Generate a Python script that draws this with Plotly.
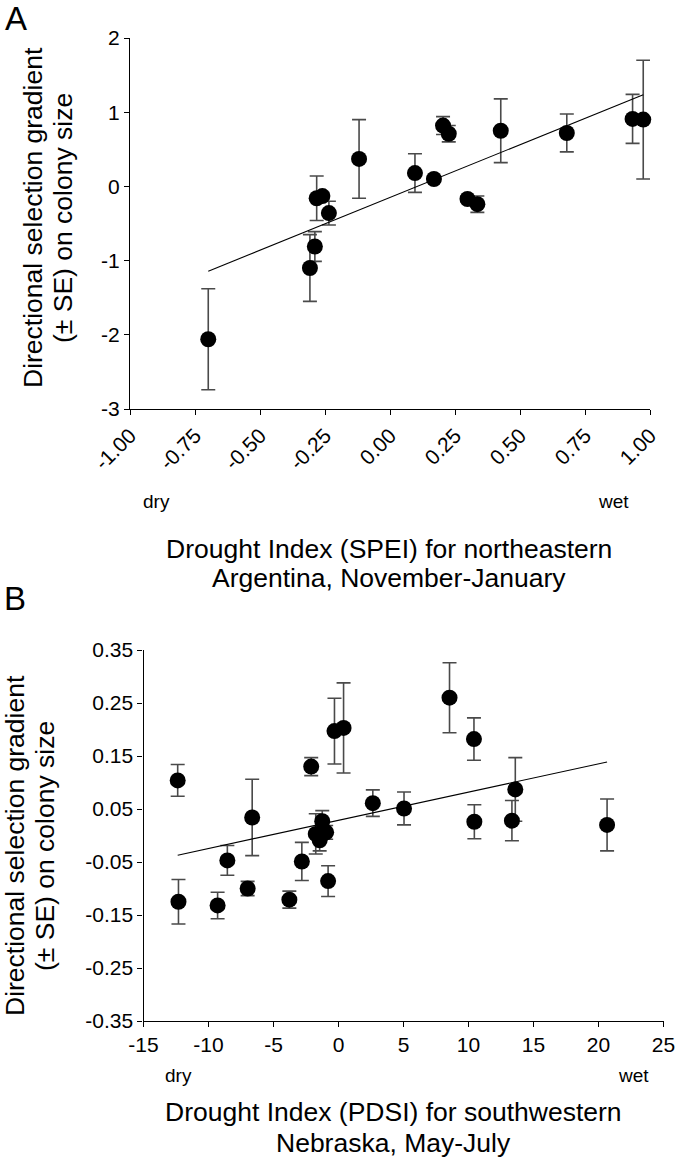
import plotly.graph_objects as go

# ---------------- Panel A data (SPEI, Argentina) ----------------
a_spei = [-0.699, -0.308, -0.289, -0.282, -0.260, -0.235, -0.119, 0.096, 0.169,
          0.204, 0.226, 0.298, 0.336, 0.426, 0.680, 0.933, 0.974]
a_grad = [-2.06, -1.10, -0.81, -0.16, -0.13, -0.36, 0.37, 0.18, 0.10,
          0.82, 0.71, -0.17, -0.24, 0.75, 0.72, 0.91, 0.90]
a_se = [0.68, 0.45, 0.20, 0.30, 0.05, 0.16, 0.53, 0.26, 0.04,
        0.12, 0.11, 0.04, 0.11, 0.43, 0.255, 0.33, 0.80]
a_fit_slope = 1.422
a_fit_intercept = -0.149

a_xticks = [-1.0, -0.75, -0.5, -0.25, 0.0, 0.25, 0.5, 0.75, 1.0]
a_xticktext = ["-1.00", "-0.75", "-0.50", "-0.25", "0.00", "0.25", "0.50", "0.75", "1.00"]
a_yticks = [2, 1, 0, -1, -2, -3]
a_yticktext = ["2", "1", "0", "-1", "-2", "-3"]

# ---------------- Panel B data (PDSI, Nebraska) ----------------
b_pdsi = [-12.37, -12.31, -9.30, -8.55, -6.99, -6.64, -3.78, -2.82, -2.10,
          -1.75, -1.25, -0.95, -1.45, -0.80, -0.31, 0.39, 2.64, 5.04,
          8.54, 10.42, 10.45, 13.34, 13.60, 20.66]
b_grad = [0.104, -0.125, -0.132, -0.047, -0.100, 0.034, -0.121, -0.049, 0.130,
          0.003, 0.027, 0.006, -0.009, -0.086, 0.197, 0.203, 0.061, 0.051,
          0.260, 0.182, 0.026, 0.028, 0.087, 0.020]
b_se = [0.030, 0.042, 0.025, 0.028, 0.0135, 0.072, 0.016, 0.036, 0.017,
        0.038, 0.020, 0.013, 0.020, 0.029, 0.062, 0.085, 0.025, 0.031,
        0.066, 0.040, 0.032, 0.038, 0.060, 0.049]
b_fit_slope = 0.00532
b_fit_intercept = 0.0287

b_xticks = [-15, -10, -5, 0, 5, 10, 15, 20, 25]
b_xticktext = ["-15", "-10", "-5", "0", "5", "10", "15", "20", "25"]
b_yticks = [0.35, 0.25, 0.15, 0.05, -0.05, -0.15, -0.25, -0.35]
b_yticktext = ["0.35", "0.25", "0.15", "0.05", "-0.05", "-0.15", "-0.25", "-0.35"]

W, H = 677, 1163
FONT = "Liberation Sans, Arial, sans-serif"
ERR_COLOR = "#4a4a4a"


def px(x):
    return x / W


def py(y):
    return 1 - y / H


fig = go.Figure()

# Panel A
fig.add_trace(go.Scatter(
    x=a_spei, y=a_grad, mode="markers", xaxis="x", yaxis="y",
    marker=dict(size=16, color="black"),
    error_y=dict(type="data", array=a_se, visible=True, color=ERR_COLOR,
                 thickness=1.6, width=7),
    showlegend=False, cliponaxis=False))
a_lx = [min(a_spei), max(a_spei)]
fig.add_trace(go.Scatter(
    x=a_lx, y=[a_fit_intercept + a_fit_slope * v for v in a_lx],
    mode="lines", xaxis="x", yaxis="y", line=dict(color="black", width=1.1),
    showlegend=False))

# Panel B
fig.add_trace(go.Scatter(
    x=b_pdsi, y=b_grad, mode="markers", xaxis="x2", yaxis="y2",
    marker=dict(size=16, color="black"),
    error_y=dict(type="data", array=b_se, visible=True, color=ERR_COLOR,
                 thickness=1.6, width=7),
    showlegend=False, cliponaxis=False))
b_lx = [min(b_pdsi), max(b_pdsi)]
fig.add_trace(go.Scatter(
    x=b_lx, y=[b_fit_intercept + b_fit_slope * v for v in b_lx],
    mode="lines", xaxis="x2", yaxis="y2", line=dict(color="black", width=1.1),
    showlegend=False))

axis_common = dict(showgrid=False, zeroline=False, showline=True,
                   linecolor="black", linewidth=1.2, ticks="outside",
                   ticklen=5, tickwidth=1.1, tickcolor="black", automargin=False,
                   tickfont=dict(family=FONT, size=21, color="black"))

fig.update_layout(
    template="none",
    width=W, height=H, autosize=False,
    margin=dict(l=0, r=0, t=0, b=0, pad=0),
    paper_bgcolor="white", plot_bgcolor="white",
    font=dict(family=FONT, color="black"),
    xaxis=dict(domain=[px(130), px(650)], range=[-1, 1], anchor="y",
               tickvals=a_xticks, ticktext=a_xticktext, tickangle=-45,
               **axis_common),
    yaxis=dict(domain=[py(409), py(38)], range=[-3, 2], anchor="x",
               tickvals=a_yticks, ticktext=a_yticktext, **axis_common),
    xaxis2=dict(domain=[px(143.5), px(663.5)], range=[-15, 25], anchor="y2",
                tickvals=b_xticks, ticktext=b_xticktext, tickangle=0,
                **axis_common),
    yaxis2=dict(domain=[py(1021), py(650)], range=[-0.35, 0.35], anchor="x2",
                tickvals=b_yticks, ticktext=b_yticktext, **axis_common),
)

TITLE = 26.5
texts = [
    # (text, x_px, y_px, size, angle)
    ("A", 16, 18, 33, 0),
    ("B", 15, 598, 33, 0),
    ("Directional selection gradient", 33, 218, TITLE, -90),
    ("(± SE) on colony size", 63, 218, TITLE, -90),
    ("Directional selection gradient", 15, 846, TITLE, -90),
    ("(± SE) on colony size", 45, 846, TITLE, -90),
    ("dry", 156, 501, 19, 0),
    ("wet", 613, 501, 19, 0),
    ("Drought Index (SPEI) for northeastern", 389, 549, TITLE, 0),
    ("Argentina, November-January", 389, 578, TITLE, 0),
    ("dry", 178, 1075, 19, 0),
    ("wet", 633, 1075, 19, 0),
    ("Drought Index (PDSI) for southwestern", 393, 1112, TITLE, 0),
    ("Nebraska, May-July", 393, 1143, TITLE, 0),
]
for t, x, y, s, ang in texts:
    fig.add_annotation(text=t, x=px(x), y=py(y), xref="paper", yref="paper",
                       xanchor="center", yanchor="middle", showarrow=False,
                       textangle=ang, font=dict(family=FONT, size=s, color="black"))

fig.write_html(
    "out.html",
    config={"displayModeBar": False},
    post_script="document.body.style.margin='0';document.body.style.overflow='hidden';",
)
